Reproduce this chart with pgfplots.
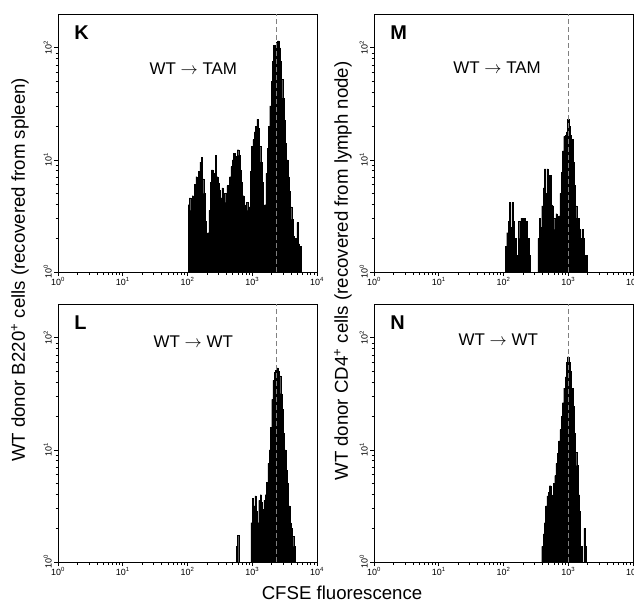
\documentclass[border=0pt]{standalone}
\usepackage{fontspec}
\setmainfont{Liberation Sans}
\usepackage{pgfplots}
\usepackage{pgfplotstable}
\pgfplotsset{compat=1.18}

% histogram envelopes: log10 of CFSE channel, log10 of count
\pgfplotstableread{
lx ly
2.01 0.60
2.03 0.66
2.05 0.55
2.07 0.68
2.09 0.62
2.11 0.78
2.13 0.85
2.15 0.72
2.17 0.90
2.19 0.98
2.21 1.02
2.23 0.83
2.25 0.70
2.27 0.45
2.29 0.23
2.31 0.35
2.33 0.55
2.35 0.80
2.37 0.91
2.39 0.76
2.41 0.88
2.43 1.04
2.45 0.85
2.47 0.79
2.49 0.73
2.51 0.66
2.53 0.75
2.55 0.60
2.57 0.70
2.59 0.62
2.61 0.77
2.63 0.64
2.65 0.85
2.67 0.94
2.69 1.00
2.71 1.06
2.73 0.98
2.75 1.03
2.77 1.09
2.79 1.04
2.81 0.91
2.83 0.80
2.85 0.68
2.87 0.60
2.89 0.52
2.91 0.62
2.93 0.55
2.95 0.58
2.97 0.90
2.99 1.12
3.01 1.18
3.03 1.25
3.05 1.30
3.07 1.36
3.09 1.28
3.11 1.12
3.13 0.98
3.15 0.80
3.17 0.52
3.19 0.60
3.21 0.88
3.23 1.10
3.25 1.30
3.27 1.48
3.29 1.70
3.31 1.88
3.33 2.02
3.35 1.98
3.37 2.05
3.39 2.06
3.41 2.00
3.43 1.88
3.45 1.72
3.47 1.55
3.49 1.35
3.51 1.15
3.53 1.00
3.55 0.85
3.57 0.72
3.59 0.58
3.61 0.47
3.63 0.32
3.65 0.23
3.67 0.30
3.69 0.44
3.71 0.25
3.73 0.23
3.75 0
}\datK

\pgfplotstableread{
lx ly
2.03 0.23
2.05 0.35
2.07 0.45
2.09 0.62
2.11 0.40
2.13 0.62
2.15 0.45
2.17 0.30
2.19 0.15
2.21 0.15
2.23 0.45
2.25 0.30
2.27 0.48
2.29 0.40
2.31 0.48
2.33 0.30
2.35 0.45
2.37 0.30
2.39 0.15
2.41 0
2.53 0.30
2.55 0.48
2.57 0.40
2.59 0.59
2.61 0.75
2.63 0.92
2.65 0.70
2.67 0.92
2.69 0.80
2.71 0.86
2.73 0.60
2.75 0.59
2.77 0.48
2.79 0.38
2.81 0.52
2.83 0.38
2.85 0.50
2.87 0.70
2.89 0.89
2.91 1.08
2.93 1.21
2.95 1.22
2.97 1.25
2.99 1.36
3.01 1.30
3.03 1.22
3.05 1.18
3.07 0.98
3.09 0.77
3.11 0.59
3.13 0.48
3.15 0.48
3.17 0.38
3.19 0.30
3.21 0.38
3.23 0.30
3.25 0.15
3.27 0.15
3.29 0
}\datM

\pgfplotstableread{
lx ly
2.75 0.14
2.77 0.24
2.79 0
2.98 0.35
3.00 0.57
3.02 0.50
3.04 0.59
3.06 0.45
3.08 0.35
3.10 0.55
3.12 0.60
3.14 0.53
3.16 0.47
3.18 0.55
3.20 0.60
3.22 0.71
3.24 0.88
3.26 1.00
3.28 1.20
3.30 1.45
3.32 1.62
3.34 1.69
3.36 1.71
3.38 1.73
3.40 1.70
3.42 1.66
3.44 1.50
3.46 1.36
3.48 1.15
3.50 1.00
3.52 0.82
3.54 0.70
3.56 0.50
3.58 0.35
3.60 0.30
3.62 0.23
3.64 0.14
3.66 0
}\datL

\pgfplotstableread{
lx ly
2.59 0.14
2.61 0.25
2.63 0.35
2.65 0.50
2.67 0.59
2.69 0.62
2.71 0.68
2.73 0.60
2.75 0.56
2.77 0.70
2.79 0.77
2.81 0.88
2.83 0.97
2.85 1.08
2.87 1.18
2.89 1.30
2.91 1.42
2.93 1.55
2.95 1.65
2.97 1.78
2.99 1.83
3.01 1.78
3.03 1.70
3.05 1.55
3.07 1.39
3.09 1.15
3.11 0.98
3.13 0.86
3.15 0.60
3.17 0.45
3.19 0.14
3.21 0
3.24 0.30
3.26 0.14
3.28 0
}\datN

\newcommand{\decmin}{0.301,0.477,0.602,0.699,0.778,0.845,0.903,0.954,1.301,1.477,1.602,1.699,1.778,1.845,1.903,1.954,2.301,2.477,2.602,2.699,2.778,2.845,2.903,2.954,3.301,3.477,3.602,3.699,3.778,3.845,3.903,3.954}
\newcommand{\cntmin}{0.301,0.477,0.602,0.699,0.778,0.845,0.903,0.954,1.301,1.477,1.602,1.699,1.778,1.845,1.903,1.954}

\tikzset{
  flowtag/.style={font=\bfseries\fontsize{20}{24}\selectfont, anchor=north west, inner sep=0pt},
  flowtx/.style={font=\fontsize{17}{20}\selectfont},
  flowcut/.style={gray, line width=0.8bp, dash pattern=on 5bp off 3bp},
  flowhist/.style={fill=black, draw=black, line width=0.3bp, const plot},
}

\begin{document}
\begin{tikzpicture}
\useasboundingbox (0,0) rectangle (634bp,-605bp);

\begin{axis}[at={(58bp,-14bp)}, anchor=north west,
    width=259bp, height=258bp, scale only axis,
    xmin=0, xmax=4, ymin=0, ymax=2.3,
    xtick={0,1,2,3,4},
    xticklabels={10\textsuperscript{0},10\textsuperscript{1},10\textsuperscript{2},10\textsuperscript{3},10\textsuperscript{4}},
    ytick={0,1,2},
    yticklabels={10\textsuperscript{0},10\textsuperscript{1},10\textsuperscript{2}},
    minor xtick/.expanded={\decmin}, minor ytick/.expanded={\cntmin},
    xtick pos=bottom, ytick pos=left, tick align=outside,
    major tick length=4bp, minor tick length=2.5bp,
    tick style={black, line width=0.6bp},
    axis line style={line width=0.8bp},
    xticklabel style={font=\fontsize{9}{10}\selectfont, inner sep=1bp},
    yticklabel style={font=\fontsize{9}{10}\selectfont, rotate=90, anchor=south, inner sep=2bp}]
\addplot[flowhist] table[x=lx, y=ly] {\datK} \closedcycle;
\addplot[flowcut] coordinates {(3.37,0) (3.37,2.3)};
\node[flowtag] at (rel axis cs:0.062,0.957) {K};
\node[flowtx] at (axis cs:2.09,1.81) {WT $\rightarrow$ TAM};
\end{axis}

\begin{axis}[at={(374bp,-14bp)}, anchor=north west,
    width=259bp, height=258bp, scale only axis,
    xmin=0, xmax=4, ymin=0, ymax=2.3,
    xtick={0,1,2,3,4},
    xticklabels={10\textsuperscript{0},10\textsuperscript{1},10\textsuperscript{2},10\textsuperscript{3},10\textsuperscript{4}},
    ytick={0,1,2},
    yticklabels={10\textsuperscript{0},10\textsuperscript{1},10\textsuperscript{2}},
    minor xtick/.expanded={\decmin}, minor ytick/.expanded={\cntmin},
    xtick pos=bottom, ytick pos=left, tick align=outside,
    major tick length=4bp, minor tick length=2.5bp,
    tick style={black, line width=0.6bp},
    axis line style={line width=0.8bp},
    xticklabel style={font=\fontsize{9}{10}\selectfont, inner sep=1bp},
    yticklabel style={font=\fontsize{9}{10}\selectfont, rotate=90, anchor=south, inner sep=2bp}]
\addplot[flowhist] table[x=lx, y=ly] {\datM} \closedcycle;
\addplot[flowcut] coordinates {(3.0,0) (3.0,2.3)};
\node[flowtag] at (rel axis cs:0.062,0.957) {M};
\node[flowtx] at (axis cs:1.90,1.82) {WT $\rightarrow$ TAM};
\end{axis}

\begin{axis}[at={(58bp,-304bp)}, anchor=north west,
    width=259bp, height=258bp, scale only axis,
    xmin=0, xmax=4, ymin=0, ymax=2.3,
    xtick={0,1,2,3,4},
    xticklabels={10\textsuperscript{0},10\textsuperscript{1},10\textsuperscript{2},10\textsuperscript{3},10\textsuperscript{4}},
    ytick={0,1,2},
    yticklabels={10\textsuperscript{0},10\textsuperscript{1},10\textsuperscript{2}},
    minor xtick/.expanded={\decmin}, minor ytick/.expanded={\cntmin},
    xtick pos=bottom, ytick pos=left, tick align=outside,
    major tick length=4bp, minor tick length=2.5bp,
    tick style={black, line width=0.6bp},
    axis line style={line width=0.8bp},
    xticklabel style={font=\fontsize{9}{10}\selectfont, inner sep=1bp},
    yticklabel style={font=\fontsize{9}{10}\selectfont, rotate=90, anchor=south, inner sep=2bp}]
\addplot[flowhist] table[x=lx, y=ly] {\datL} \closedcycle;
\addplot[flowcut] coordinates {(3.37,0) (3.37,2.3)};
\node[flowtag] at (rel axis cs:0.062,0.957) {L};
\node[flowtx] at (axis cs:2.09,1.96) {WT $\rightarrow$ WT};
\end{axis}

\begin{axis}[at={(374bp,-304bp)}, anchor=north west,
    width=259bp, height=258bp, scale only axis,
    xmin=0, xmax=4, ymin=0, ymax=2.3,
    xtick={0,1,2,3,4},
    xticklabels={10\textsuperscript{0},10\textsuperscript{1},10\textsuperscript{2},10\textsuperscript{3},10\textsuperscript{4}},
    ytick={0,1,2},
    yticklabels={10\textsuperscript{0},10\textsuperscript{1},10\textsuperscript{2}},
    minor xtick/.expanded={\decmin}, minor ytick/.expanded={\cntmin},
    xtick pos=bottom, ytick pos=left, tick align=outside,
    major tick length=4bp, minor tick length=2.5bp,
    tick style={black, line width=0.6bp},
    axis line style={line width=0.8bp},
    xticklabel style={font=\fontsize{9}{10}\selectfont, inner sep=1bp},
    yticklabel style={font=\fontsize{9}{10}\selectfont, rotate=90, anchor=south, inner sep=2bp}]
\addplot[flowhist] table[x=lx, y=ly] {\datN} \closedcycle;
\addplot[flowcut] coordinates {(3.0,0) (3.0,2.3)};
\node[flowtag] at (rel axis cs:0.062,0.957) {N};
\node[flowtx] at (axis cs:1.92,1.98) {WT $\rightarrow$ WT};
\end{axis}

\node[font=\fontsize{18.7}{22}\selectfont, rotate=90] at (20bp,-270bp)
  {WT donor B220\textsuperscript{+} cells (recovered from spleen)};
\node[font=\fontsize{18.7}{22}\selectfont, rotate=90] at (343bp,-271bp)
  {WT donor CD4\textsuperscript{+} cells (recovered from lymph node)};
\node[font=\fontsize{18.7}{22}\selectfont] at (342bp,-593bp) {CFSE fluorescence};
\end{tikzpicture}
\end{document}
